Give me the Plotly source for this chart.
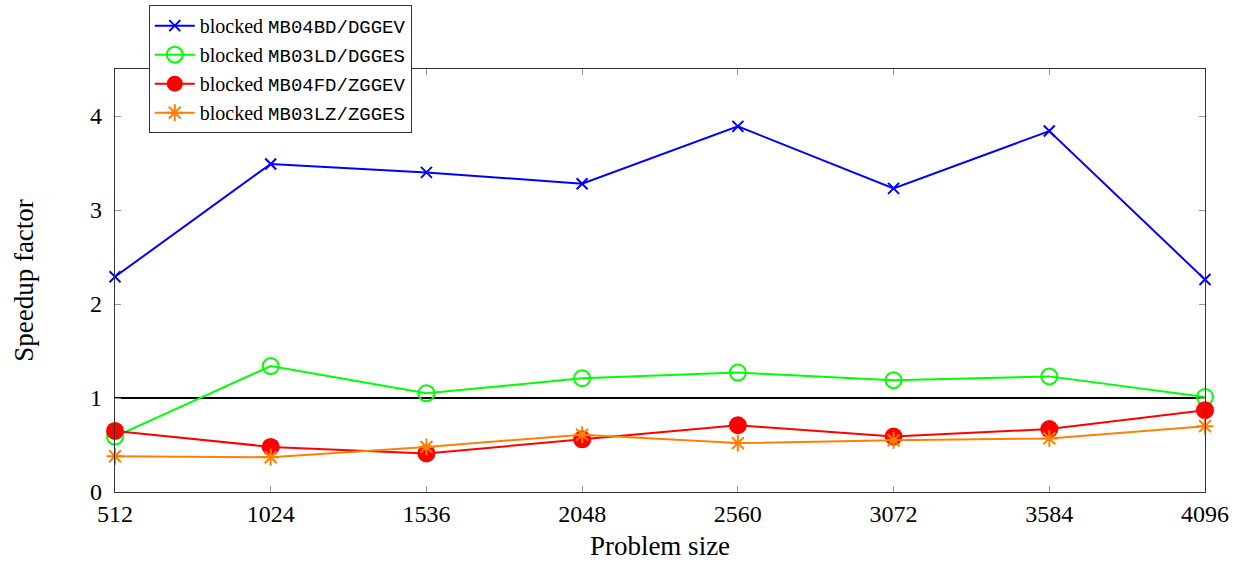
import plotly.graph_objects as go

sizes = [512, 1024, 1536, 2048, 2560, 3072, 3584, 4096]
mb04bd = [2.29, 3.49, 3.40, 3.28, 3.89, 3.23, 3.84, 2.26]
mb03ld = [0.59, 1.34, 1.05, 1.21, 1.27, 1.19, 1.23, 1.01]
mb04fd = [0.65, 0.48, 0.41, 0.56, 0.71, 0.59, 0.67, 0.87]
mb03lz = [0.38, 0.37, 0.48, 0.61, 0.52, 0.55, 0.57, 0.70]
names = ["MB04BD/DGGEV", "MB03LD/DGGES", "MB04FD/ZGGEV", "MB03LZ/ZGGES"]
yticks = [0, 1, 2, 3, 4]

mono = "Liberation Mono"
def lab(n):
    return f'blocked <span style="font-family:{mono};font-size:19px">{n}</span>'

fig = go.Figure()
fig.add_trace(go.Scatter(x=sizes, y=mb04bd, mode="lines+markers", name=lab(names[0]),
                         line=dict(color="#0000ff", width=2),
                         marker=dict(symbol="x-thin", size=11, line=dict(color="#0000ff", width=2)),
                         cliponaxis=False))
fig.add_trace(go.Scatter(x=sizes, y=mb03ld, mode="lines+markers", name=lab(names[1]),
                         line=dict(color="#00ff00", width=2),
                         marker=dict(symbol="circle-open", size=16, color="#00ff00", line=dict(width=2)),
                         cliponaxis=False))
fig.add_trace(go.Scatter(x=sizes, y=mb04fd, mode="lines+markers", name=lab(names[2]),
                         line=dict(color="#ff0000", width=2),
                         marker=dict(symbol="circle", size=18, color="#ff0000"),
                         cliponaxis=False))
fig.add_trace(go.Scatter(x=sizes, y=mb03lz, mode="lines+markers", name=lab(names[3]),
                         line=dict(color="#ff8000", width=2),
                         marker=dict(symbol="asterisk-open", size=14, line=dict(color="#ff8000", width=2)),
                         cliponaxis=False))

fig.add_shape(type="line", xref="x", yref="y", x0=sizes[0], x1=sizes[-1], y0=1, y1=1,
              line=dict(color="black", width=2), layer="below")

serif = "Liberation Serif"
axis_common = dict(showline=True, linecolor="#333", linewidth=1.2, mirror="ticks",
                   ticks="inside", ticklen=6, tickcolor="#999", tickwidth=1.2,
                   showgrid=False, zeroline=False,
                   tickfont=dict(family=serif, size=24, color="black"))
fig.update_xaxes(range=[512, 4096], tickvals=sizes, ticktext=[str(s) for s in sizes],
                 title=dict(text="Problem size", font=dict(family=serif, size=27, color="black"), standoff=10),
                 **axis_common)
fig.update_yaxes(range=[0, 4.5], tickvals=yticks, ticktext=[str(t) for t in yticks],
                 ticklabelstandoff=7,
                 title=dict(text="Speedup factor", font=dict(family=serif, size=27, color="black"), standoff=48),
                 **axis_common)

fig.update_layout(
    width=1246, height=566,
    margin=dict(l=115, r=41, t=69, b=74, autoexpand=False),
    plot_bgcolor="white", paper_bgcolor="white",
    font=dict(family=serif, size=20, color="black"),
    legend=dict(x=0.031, y=1.151, xanchor="left", yanchor="top",
                bordercolor="#333", borderwidth=1, bgcolor="white",
                font=dict(family=serif, size=20, color="black"),
                tracegroupgap=0, itemwidth=40),
)

fig.write_html("out.html")
